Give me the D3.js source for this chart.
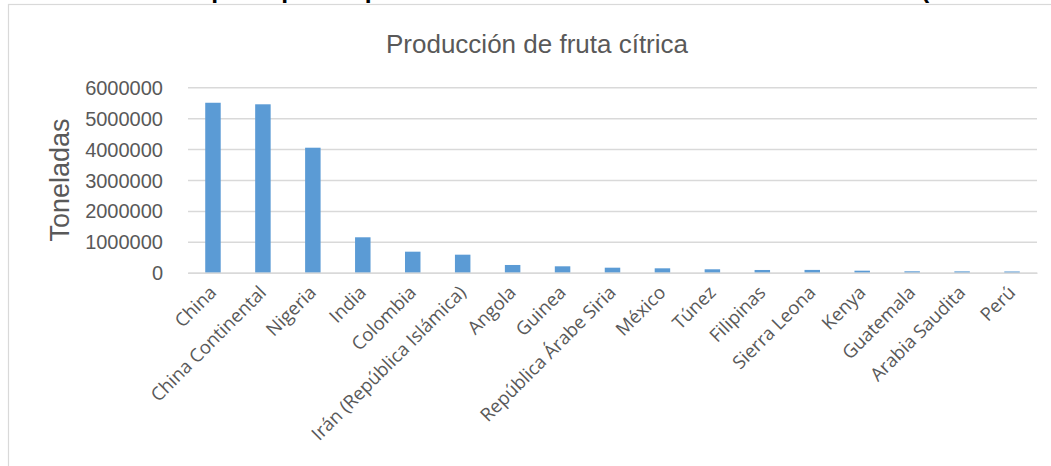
<!DOCTYPE html>
<html>
<head>
<meta charset="utf-8">
<script src="https://cdn.jsdelivr.net/npm/d3@7"></script>
<style>
  html, body { margin: 0; padding: 0; background: #fff; }
  svg { display: block; }
</style>
</head>
<body>
<svg id="chart" width="1051" height="466"></svg>
<script>
const pageTitle = "Principales países productores de fruta cítrica del mundo en 2016 (en toneladas)";
const chartTitle = "Producción de fruta cítrica";
const yAxisTitle = "Toneladas";
const categories = ["China", "China Continental", "Nigeria", "India", "Colombia",
  "Irán (República Islámica)", "Angola", "Guinea", "República Árabe Siria", "México",
  "Túnez", "Filipinas", "Sierra Leona", "Kenya", "Guatemala", "Arabia Saudita", "Perú"];
const values = [5500000, 5450000, 4045000, 1146000, 680000,
  583000, 250000, 207000, 162000, 142000,
  110000, 88000, 90000, 65000, 45000, 43000, 40000];
const yTicks = [0, 1000000, 2000000, 3000000, 4000000, 5000000, 6000000];

const svg = d3.select("#chart");
const textColor = "#595959";
const gridColor = "#d9d9d9";

// outer chart border (extends beyond the visible area right and bottom)
svg.append("rect")
  .attr("x", 8.5).attr("y", 4.5)
  .attr("width", 1100).attr("height", 500)
  .attr("fill", "none").attr("stroke", gridColor).attr("stroke-width", 1.2);

// page title mostly cut off at the top (only descenders visible)
const pt = svg.append("text")
  .attr("x", 0).attr("y", -1)
  .attr("font-family", "Liberation Sans, Arial, sans-serif")
  .attr("font-weight", "bold")
  .attr("font-size", 24)
  .attr("fill", "#000")
  .text(pageTitle);
{
  const node = pt.node();
  const iP = pageTitle.indexOf("p");
  const iParen = pageTitle.indexOf("(");
  const a = node.getStartPositionOfChar(iP).x;
  const b = node.getStartPositionOfChar(iParen).x;
  const fs = 24 * (923 - 213) / (b - a);
  pt.attr("font-size", fs);
  const a2 = node.getStartPositionOfChar(iP).x;
  pt.attr("x", 213 - a2 - fs * 0.07);
  pt.attr("y", 3.5 - fs * 0.21);
}

// chart title
svg.append("text")
  .attr("x", 537).attr("y", 53)
  .attr("text-anchor", "middle")
  .attr("font-family", "Liberation Sans, Arial, sans-serif")
  .attr("font-size", 26)
  .attr("fill", textColor)
  .text(chartTitle);

const x = d3.scaleBand()
  .domain(categories)
  .range([188, 1037])
  .paddingInner(0.69)
  .paddingOuter(0.345);

const y = d3.scaleLinear()
  .domain([0, 6000000])
  .range([272.7, 87.3]);

// gridlines + y tick labels
const yAxis = d3.axisLeft(y)
  .tickValues(yTicks)
  .tickSize(-(1037 - 188))
  .tickPadding(25)
  .tickFormat(d3.format("d"));

const gy = svg.append("g")
  .attr("transform", "translate(188,0)")
  .call(yAxis);
gy.select(".domain").remove();
gy.selectAll(".tick line").attr("stroke", gridColor).attr("stroke-width", 1.5);
gy.selectAll(".tick text")
  .attr("font-family", "Liberation Sans, Arial, sans-serif")
  .attr("font-size", 20)
  .attr("fill", textColor)
  .attr("dy", "0.35em");

// bars
svg.append("g")
  .selectAll("rect")
  .data(categories)
  .join("rect")
  .attr("x", d => x(d))
  .attr("width", x.bandwidth())
  .attr("y", (d, i) => y(values[i]))
  .attr("height", (d, i) => y(0) - y(values[i]))
  .attr("fill", "#5b9bd5");

// baseline axis
const xAxis = d3.axisBottom(x).tickSize(0).tickPadding(0);
const gx = svg.append("g")
  .attr("transform", `translate(0,${y(0)})`)
  .call(xAxis);
gx.select(".domain").attr("stroke", gridColor).attr("stroke-width", 1.5);
gx.selectAll(".tick text")
  .attr("font-family", "Open Sans, sans-serif")
  .attr("font-size", 18.5)
  .attr("fill", textColor)
  .attr("text-anchor", "end")
  .attr("dy", 0)
  .attr("transform", "translate(4.5,21) rotate(-45)");

// y axis title
svg.append("text")
  .attr("transform", "translate(69,180) rotate(-90)")
  .attr("text-anchor", "middle")
  .attr("font-family", "Liberation Sans, Arial, sans-serif")
  .attr("font-size", 27)
  .attr("fill", textColor)
  .text(yAxisTitle);
</script>
</body>
</html>
